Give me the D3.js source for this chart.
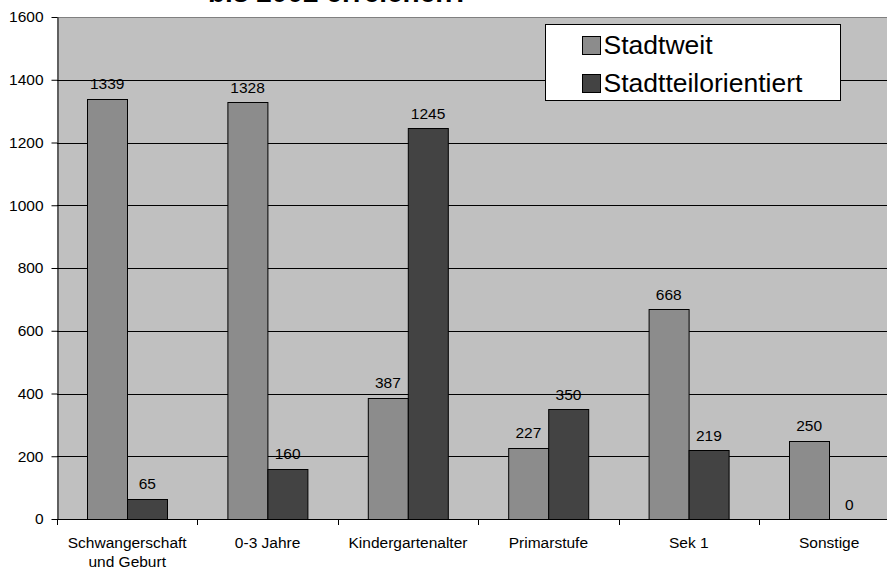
<!DOCTYPE html>
<html>
<head>
<meta charset="utf-8">
<script src="https://cdn.jsdelivr.net/npm/d3@7"></script>
<style>
  body { margin: 0; background: #fff; }
  svg { display: block; font-family: "Liberation Sans", Arial, sans-serif; }
</style>
</head>
<body>
<svg id="chart"></svg>
<script>
// Data
const CATEGORIES = ["Schwangerschaft\nund Geburt", "0-3 Jahre", "Kindergartenalter", "Primarstufe", "Sek 1", "Sonstige"];
const SERIES = ["Stadtweit", "Stadtteilorientiert"];
const STADTWEIT = [1339, 1328, 387, 227, 668, 250];
const STADTTEIL = [65, 160, 1245, 350, 219, 0];
const Y_TICKS = [0, 200, 400, 600, 800, 1000, 1200, 1400, 1600];
const TITLE = "bis 2002 erreichen?";

// Colours
const COLORS = ["#8c8c8c", "#434343"];
const PLOT_BG = "#c0c0c0";

// SVG constants
const WIDTH = 887;
const HEIGHT = 569;
const LEFT = 57;
const TOP = 17;
const BOTTOM = 519;
const BAND = 140.4;
const FONT = "Liberation Sans, Arial, sans-serif";

const svg = d3.select("#chart")
  .attr("width", WIDTH)
  .attr("height", HEIGHT);

const rows = CATEGORIES.map((c, i) => ({
  cat: c,
  values: [STADTWEIT[i], STADTTEIL[i]]
}));

// Scales
const x = d3.scaleBand()
  .domain(CATEGORIES)
  .range([LEFT, LEFT + BAND * CATEGORIES.length])
  .padding(0);

const xSub = d3.scaleBand()
  .domain(SERIES)
  .range([0, x.bandwidth()])
  .paddingInner(0)
  .paddingOuter(0.75);

const y = d3.scaleLinear()
  .domain([0, 1600])
  .range([BOTTOM, TOP]);

// Title (the reference only shows the bottom of its last line)
svg.append("text")
  .attr("x", 208)
  .attr("y", 2)
  .attr("font-size", 28)
  .attr("font-weight", "bold")
  .attr("fill", "#000")
  .text(TITLE);

// Plot area
svg.append("rect")
  .attr("x", LEFT)
  .attr("y", TOP)
  .attr("width", x.range()[1] - LEFT)
  .attr("height", BOTTOM - TOP)
  .attr("fill", PLOT_BG);

svg.append("line")
  .attr("x1", LEFT).attr("x2", x.range()[1])
  .attr("y1", TOP + 0.5).attr("y2", TOP + 0.5)
  .attr("stroke", "#808080");

// Gridlines
svg.selectAll(".grid")
  .data(Y_TICKS.filter(d => d > 0 && d < 1600))
  .enter()
  .append("line")
  .attr("class", "grid")
  .attr("x1", LEFT)
  .attr("x2", x.range()[1])
  .attr("y1", d => Math.round(y(d)) + 0.5)
  .attr("y2", d => Math.round(y(d)) + 0.5)
  .attr("stroke", "#000");

// Bars
const groups = svg.selectAll(".group")
  .data(rows)
  .enter()
  .append("g")
  .attr("class", "group")
  .attr("transform", d => `translate(${x(d.cat)},0)`);

groups.selectAll("rect")
  .data(d => d.values.map((v, i) => ({ key: SERIES[i], value: v, i })))
  .enter()
  .filter(d => d.value > 0)
  .append("rect")
  .attr("x", d => Math.round(xSub(d.key)) + 0.5)
  .attr("y", d => Math.round(y(d.value)) + 0.5)
  .attr("width", Math.round(xSub.bandwidth()))
  .attr("height", d => Math.round(y(0)) - Math.round(y(d.value)))
  .attr("fill", d => COLORS[d.i])
  .attr("stroke", "#000");

// Value labels
groups.selectAll(".val")
  .data(d => d.values.map((v, i) => ({ key: SERIES[i], value: v })))
  .enter()
  .append("text")
  .attr("class", "val")
  .attr("x", d => xSub(d.key) + xSub.bandwidth() / 2)
  .attr("y", d => y(d.value) - 9.5)
  .attr("text-anchor", "middle")
  .attr("font-size", 15.5)
  .attr("fill", "#000")
  .text(d => d.value);

// Y axis
const yAxis = svg.append("g")
  .attr("transform", `translate(${LEFT + 0.5},0)`)
  .call(d3.axisLeft(y)
    .tickValues(Y_TICKS)
    .tickFormat(d3.format("d"))
    .tickSize(6)
    .tickPadding(8)
    .tickSizeOuter(0));
yAxis.select(".domain").attr("stroke", "#000");
yAxis.selectAll(".tick line").attr("stroke", "#000");
yAxis.selectAll(".tick text")
  .attr("font-size", 15.5)
  .attr("font-family", FONT)
  .attr("fill", "#000");

// X axis line and ticks at category boundaries
svg.append("line")
  .attr("x1", LEFT).attr("x2", x.range()[1])
  .attr("y1", BOTTOM + 0.5).attr("y2", BOTTOM + 0.5)
  .attr("stroke", "#000");

svg.selectAll(".xtick")
  .data(CATEGORIES)
  .enter()
  .append("line")
  .attr("class", "xtick")
  .attr("x1", d => Math.round(x(d)) + 0.5)
  .attr("x2", d => Math.round(x(d)) + 0.5)
  .attr("y1", BOTTOM)
  .attr("y2", BOTTOM + 6)
  .attr("stroke", "#000");

// Category labels
const catText = svg.selectAll(".cat")
  .data(CATEGORIES)
  .enter()
  .append("text")
  .attr("class", "cat")
  .attr("x", d => x(d) + x.bandwidth() / 2)
  .attr("y", 548)
  .attr("text-anchor", "middle")
  .attr("font-size", 15.5)
  .attr("fill", "#000");

catText.selectAll("tspan")
  .data(d => d.split("\n"))
  .enter()
  .append("tspan")
  .attr("x", function () { return d3.select(this.parentNode).attr("x"); })
  .attr("dy", (d, i) => i === 0 ? 0 : 19)
  .text(d => d);

// Legend
const legend = svg.append("g").attr("transform", "translate(545.5,24.5)");
legend.append("rect")
  .attr("width", 295)
  .attr("height", 76)
  .attr("fill", "#fff")
  .attr("stroke", "#000");

const items = legend.selectAll(".item")
  .data(SERIES)
  .enter()
  .append("g")
  .attr("class", "item")
  .attr("transform", (d, i) => `translate(0,${i * 38})`);

items.append("rect")
  .attr("x", 37)
  .attr("y", 12)
  .attr("width", 18)
  .attr("height", 18)
  .attr("fill", (d, i) => COLORS[i])
  .attr("stroke", "#000");

items.append("text")
  .attr("x", 58)
  .attr("y", 29)
  .attr("font-size", 26.5)
  .attr("fill", "#000")
  .text(d => d);
</script>
</body>
</html>
